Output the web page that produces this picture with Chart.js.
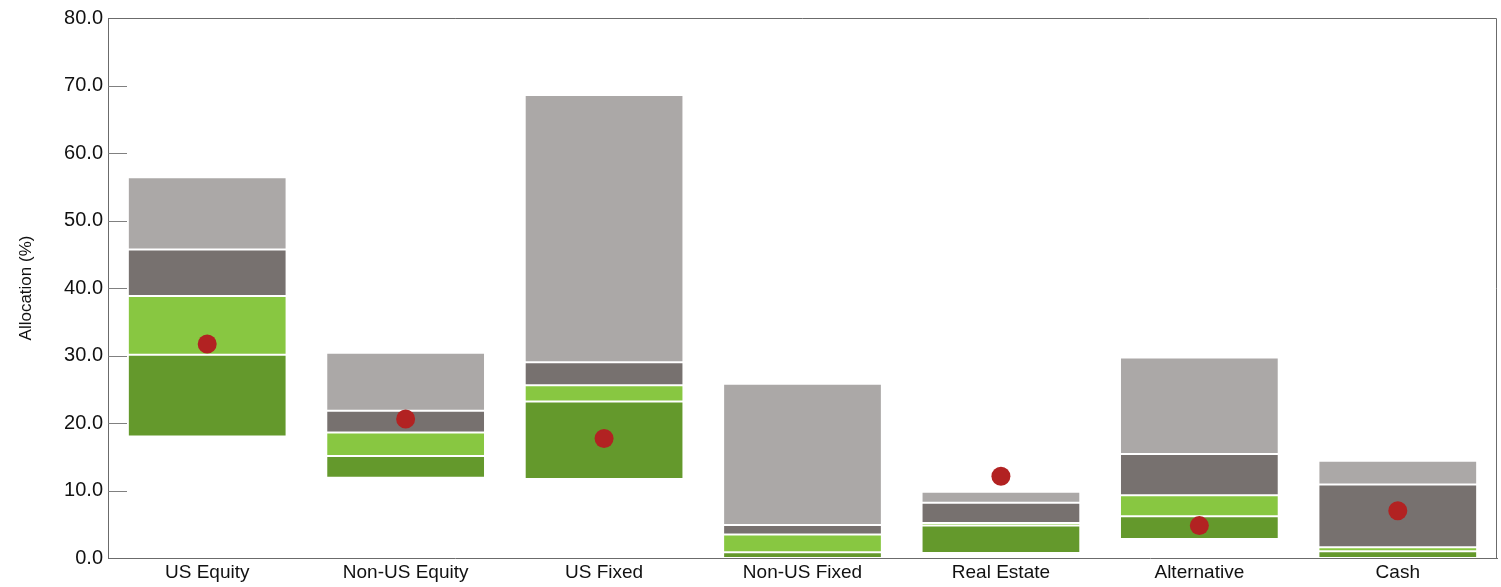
<!DOCTYPE html>
<html>
<head>
<meta charset="utf-8">
<script src="https://cdn.jsdelivr.net/npm/chart.js@4"></script>
<style>
  html, body { margin: 0; padding: 0; background: #fff; }
  #wrap { width: 1501px; height: 587px; position: relative; }
</style>
</head>
<body>
<div id="wrap"><canvas id="allocChart"></canvas></div>
<script>
// categories and the range bands (low/high of each band, in %)
const categories = ["US Equity", "Non-US Equity", "US Fixed", "Non-US Fixed", "Real Estate", "Alternative", "Cash"];
const band1 = [[18.0, 30.1], [11.9, 15.1], [11.7, 23.2], [0.0, 0.85], [0.75, 4.8], [2.8, 6.2], [0.0, 1.0]];   // dark green
const band2 = [[30.1, 38.8], [15.1, 18.6], [23.2, 25.6], [0.85, 3.5], [4.8, 5.2], [6.2, 9.3], [1.0, 1.6]];    // light green
const band3 = [[38.8, 45.7], [18.6, 21.8], [25.6, 29.0], [3.5, 4.9], [5.2, 8.2], [9.3, 15.4], [1.6, 10.9]];   // dark gray
const band4 = [[45.7, 56.4], [21.8, 30.4], [29.0, 68.6], [4.9, 25.8], [8.2, 9.8], [15.4, 29.7], [10.9, 14.4]]; // light gray
const current = [31.7, 20.6, 17.7, null, 12.1, 4.8, 7.0];
const yTicks = [0, 10, 20, 30, 40, 50, 60, 70, 80];

const axisGray = "#6b6b6b";
const fontFam = "'Liberation Sans', Arial, sans-serif";

// frame on top/right and short tick marks inside the plot
const framePlugin = {
    id: "frame",
    afterDraw(chart) {
        const { ctx, chartArea } = chart;
        const y = chart.scales.y;
        ctx.save();
        ctx.strokeStyle = axisGray;
        ctx.lineWidth = 1;
        ctx.beginPath();
        ctx.moveTo(chartArea.left, chartArea.top + 0.5);
        ctx.lineTo(chartArea.right - 0.5, chartArea.top + 0.5);
        ctx.lineTo(chartArea.right - 0.5, chartArea.bottom);
        ctx.stroke();
        ctx.strokeStyle = "#808080";
        yTicks.forEach((v) => {
            if (v === 0 || v === 80) return;
            const py = Math.round(y.getPixelForValue(v)) + 0.5;
            ctx.beginPath();
            ctx.moveTo(chartArea.left, py);
            ctx.lineTo(chartArea.left + 19, py);
            ctx.stroke();
        });
        ctx.restore();
    },
};

function bandSet(data, color) {
    return {
        type: "bar",
        data: data,
        backgroundColor: color,
        borderColor: "rgba(255,255,255,0.85)",
        borderWidth: 1,
        borderSkipped: false,
        barPercentage: 0.8,
        categoryPercentage: 1.0,
        grouped: false,
        order: 2,
    };
}

new Chart(document.getElementById("allocChart").getContext("2d"), {
    data: {
        labels: categories,
        datasets: [
            {
                type: "line",
                data: current,
                showLine: false,
                pointRadius: 9.5,
                pointHoverRadius: 9.5,
                pointBackgroundColor: "#b22222",
                pointBorderColor: "#b22222",
                pointBorderWidth: 0,
                order: 0,
            },
            bandSet(band1, "#64992c"),
            bandSet(band2, "#88c741"),
            bandSet(band3, "#77716f"),
            bandSet(band4, "#aba8a7"),
        ],
    },
    options: {
        responsive: true,
        maintainAspectRatio: false,
        animation: false,
        layout: {
            autoPadding: false, // the big dots would otherwise push the right edge in
            padding: { top: 18, right: 4, left: 0, bottom: 0 },
        },
        plugins: {
            legend: { display: false },
            tooltip: { enabled: false },
        },
        scales: {
            x: {
                grid: { display: false, tickLength: 0 },
                border: { display: true, color: axisGray, width: 1 },
                ticks: {
                    color: "#111",
                    font: { family: fontFam, size: 19 },
                    padding: 3,
                },
                afterFit(scale) {
                    scale.height = 29;
                    scale.paddingLeft = 0;
                    scale.paddingRight = 0;
                },
            },
            y: {
                min: 0,
                max: 80,
                afterBuildTicks(scale) {
                    scale.ticks = yTicks.map((v) => ({ value: v }));
                },
                grid: { display: false, tickLength: 0 },
                border: { display: true, color: axisGray, width: 1 },
                ticks: {
                    color: "#111",
                    font: { family: fontFam, size: 20 },
                    padding: 5,
                    callback: (v) => Number(v).toFixed(1),
                },
                title: {
                    display: true,
                    text: "Allocation (%)",
                    color: "#111",
                    font: { family: fontFam, size: 17 },
                    padding: { top: 16, bottom: 0 },
                },
                afterFit(scale) {
                    scale.width = 108;
                    scale.paddingTop = 0;
                    scale.paddingBottom = 0;
                },
            },
        },
    },
    plugins: [framePlugin],
});
</script>
</body>
</html>
